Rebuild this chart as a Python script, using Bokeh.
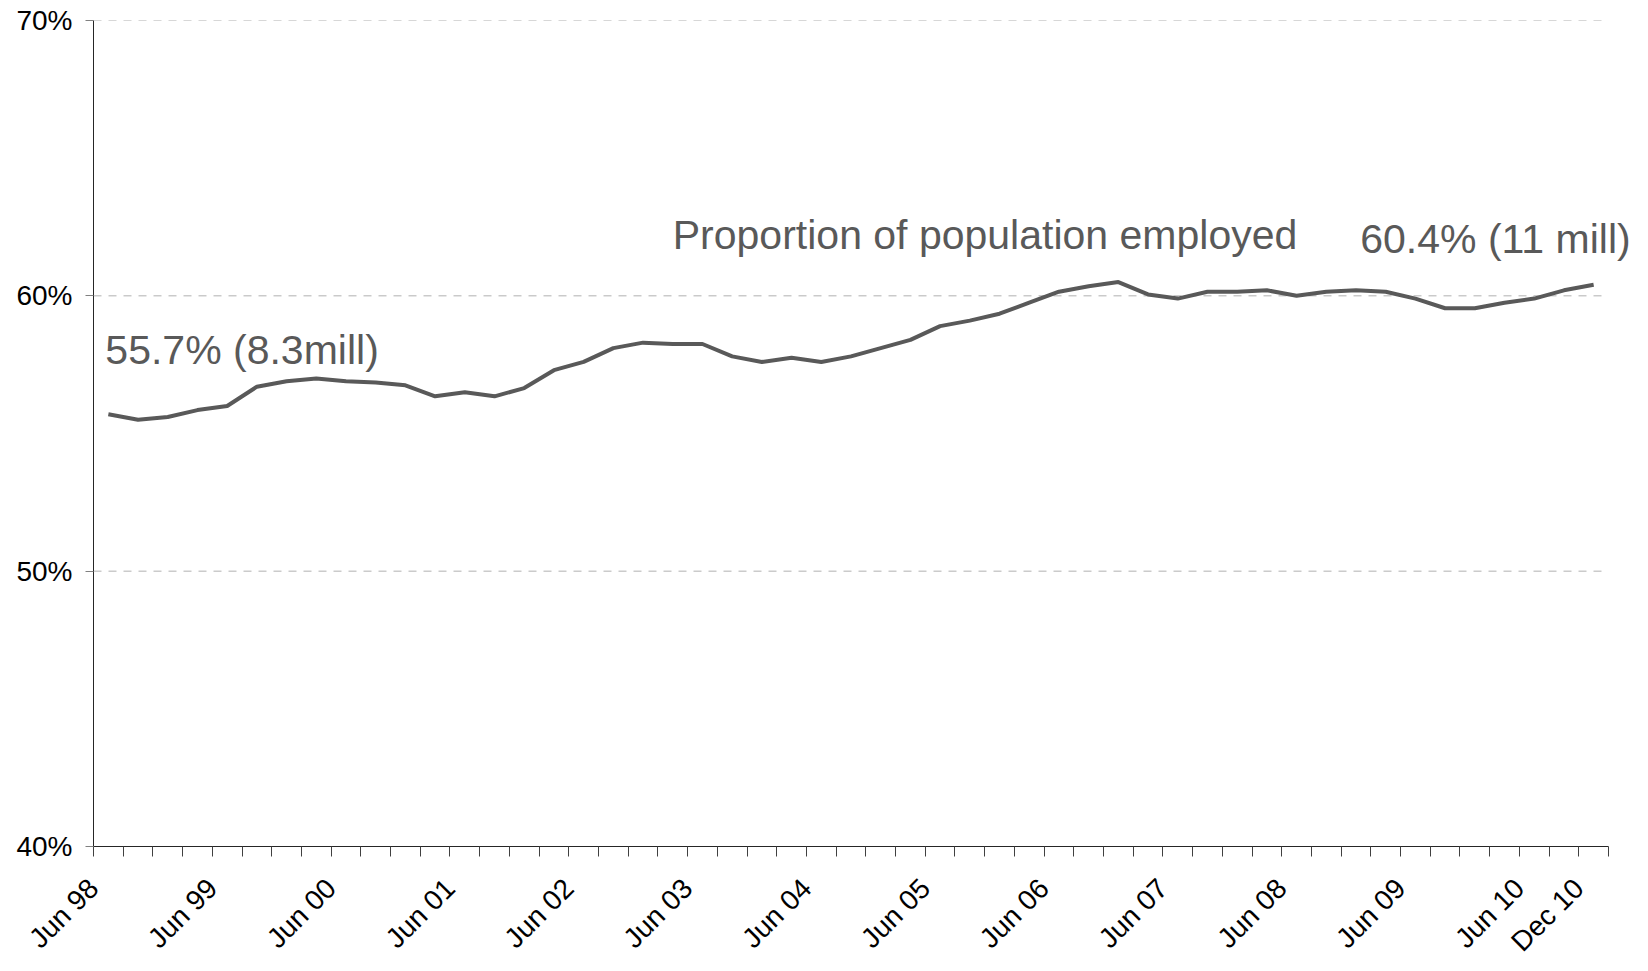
import math
from bokeh.plotting import figure
from bokeh.models import Range1d, FixedTicker, PrintfTickFormatter, Label
from bokeh.embed import file_html
from bokeh.resources import INLINE

# ---- data (quarterly, Jun 98 .. Dec 10) ----
months = ["Mar", "Jun", "Sep", "Dec"]
quarters = []
for yr in range(1998, 2011):
    for m in months:
        quarters.append(f"{m} {str(yr)[2:]}")
quarters = quarters[quarters.index("Jun 98"):quarters.index("Dec 10") + 1]

employment_rate = [55.7, 55.5, 55.6, 55.85, 56.0, 56.7, 56.9, 57.0, 56.9, 56.85,
                   56.75, 56.35, 56.5, 56.35, 56.65, 57.3, 57.6, 58.1, 58.3, 58.25,
                   58.25, 57.8, 57.6, 57.75, 57.6, 57.8, 58.1, 58.4, 58.9, 59.1,
                   59.35, 59.75, 60.15, 60.35, 60.5, 60.05, 59.9, 60.15, 60.15, 60.2,
                   60.0, 60.15, 60.2, 60.15, 59.9, 59.55, 59.55, 59.75, 59.9, 60.2,
                   60.4]

tick_labels = ["Jun 98", "Jun 99", "Jun 00", "Jun 01", "Jun 02", "Jun 03", "Jun 04",
               "Jun 05", "Jun 06", "Jun 07", "Jun 08", "Jun 09", "Jun 10", "Dec 10"]
y_ticks = [40, 50, 60, 70]
grid_levels = [50, 60, 70]

series_name = "Proportion of population employed"
start_note = f"{employment_rate[0]}% (8.3mill)"
end_note = f"{employment_rate[-1]}% (11 mill)"

# ---- layout ----
FONT = "Liberation Sans"
W, H = 1648, 971
LEFT, AXIS_RIGHT, TOP, BOTTOM = 93, 1608, 20, 124
n = len(quarters)
xs = [i + 0.5 for i in range(n)]
# frame spans to the right edge so the end note is not clipped;
# the axis itself is bounded to the categories
x_end = n * (W - LEFT) / (AXIS_RIGHT - LEFT)

p = figure(width=W, height=H, output_backend="svg", toolbar_location=None,
           x_range=Range1d(0, x_end), y_range=Range1d(40, 70),
           min_border_left=LEFT, min_border_right=0, min_border_top=TOP,
           min_border_bottom=BOTTOM)
p.outline_line_color = None
p.background_fill_color = "white"
p.border_fill_color = "white"

# x axis: ticks at category boundaries, labels at selected boundaries
p.xaxis.bounds = (0, n)
p.xaxis.ticker = FixedTicker(ticks=list(range(n + 1)))
overrides = {i: "" for i in range(n + 1)}
for lab in tick_labels:
    overrides[quarters.index(lab)] = lab
p.xaxis.major_label_overrides = overrides
p.xaxis.major_label_orientation = math.pi / 4
p.xaxis.major_label_text_font = FONT
p.xaxis.major_label_text_font_size = "28px"
p.xaxis.major_label_text_color = "black"
p.xaxis.major_label_standoff = 27
p.xaxis.major_tick_out = 10
p.xaxis.major_tick_in = 0
p.xaxis.minor_tick_line_color = None
p.xaxis.axis_line_color = "#262626"
p.xaxis.major_tick_line_color = "#404040"

# y axis
p.yaxis.ticker = FixedTicker(ticks=y_ticks)
p.yaxis.formatter = PrintfTickFormatter(format="%d%%")
p.yaxis.major_label_text_font = FONT
p.yaxis.major_label_text_font_size = "28px"
p.yaxis.major_label_text_color = "black"
p.yaxis.major_label_standoff = 13
p.yaxis.major_tick_out = 8
p.yaxis.major_tick_in = 0
p.yaxis.minor_tick_line_color = None
p.yaxis.axis_line_color = "#262626"
p.yaxis.major_tick_line_color = "#808080"

# horizontal dashed gridlines limited to the category extent
p.xgrid.visible = False
p.ygrid.visible = False
p.segment(x0=[0] * len(grid_levels), x1=[n] * len(grid_levels),
          y0=grid_levels, y1=grid_levels,
          line_color="#b0b0b0", line_width=1, line_dash="8 7", level="underlay")

p.line(xs, employment_rate, line_color="#595959", line_width=4)

common = dict(text_font=FONT, text_font_size="41px", text_color="#595959",
              text_baseline="alphabetic")
p.add_layout(Label(x=xs[0], y=employment_rate[0], x_offset=-3, y_offset=64,
                   text=start_note, text_align="left", **common))
p.add_layout(Label(x=xs[-1], y=employment_rate[-1], x_offset=37, y_offset=46,
                   text=end_note, text_align="right", **common))
p.add_layout(Label(x=19.5, y=62.2, text=series_name, text_align="left", **common))

open("out.html", "w").write(file_html(p, INLINE))
